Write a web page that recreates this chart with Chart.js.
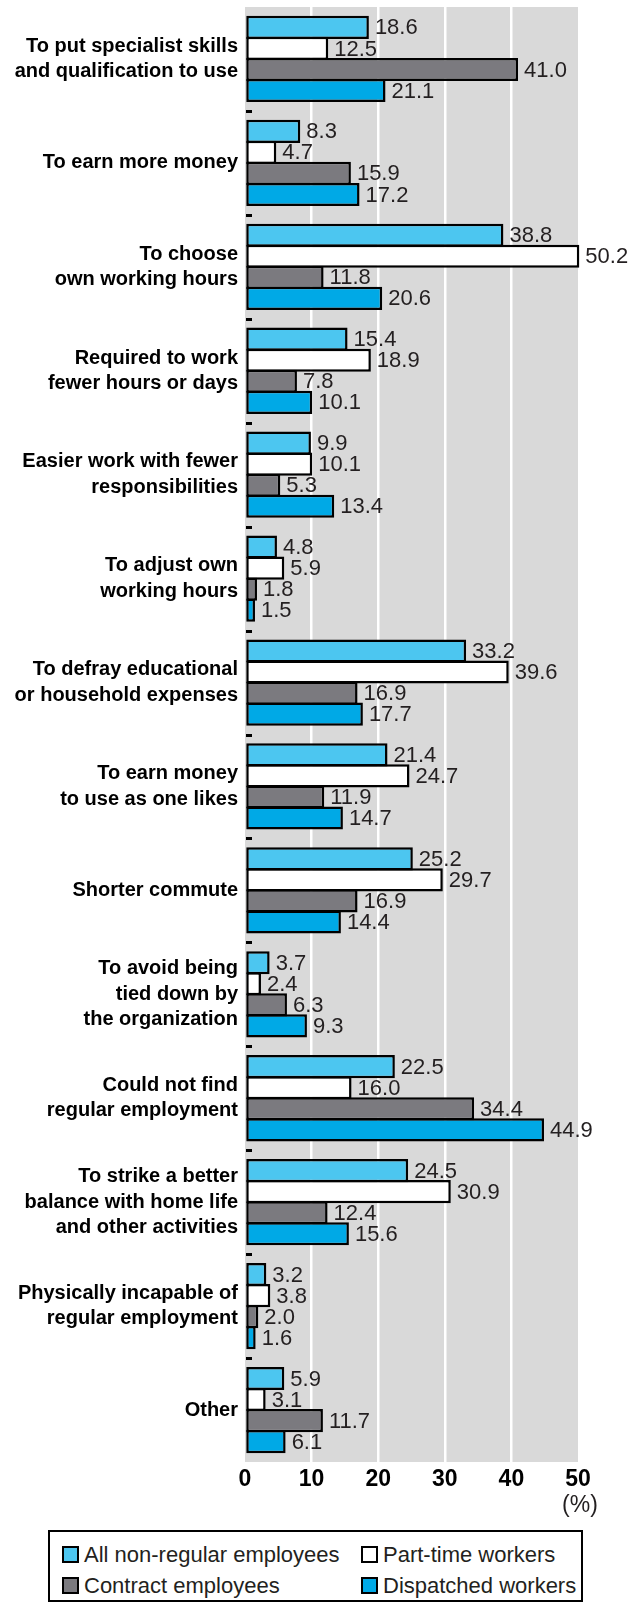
<!DOCTYPE html>
<html>
<head>
<meta charset="utf-8">
<script src="https://cdn.jsdelivr.net/npm/chart.js@4.4.0/dist/chart.umd.min.js"></script>
<style>
  body { margin: 0; background: #fff; width: 638px; height: 1603px; position: relative; overflow: hidden; }
  #wrap { position: absolute; left: 0; top: 0; width: 638px; height: 1520px; }
  #legend {
    position: absolute; left: 48px; top: 1530px; width: 535px; height: 72px;
    border: 2px solid #000; box-sizing: border-box;
    display: grid; grid-template-columns: 311px auto; grid-auto-rows: 31px;
    align-content: start; padding-top: 7px;
    font-family: 'Liberation Sans', Arial, sans-serif; font-size: 22px; color: #231f20;
  }
  #legend .item { display: flex; align-items: center; white-space: nowrap; }
  #legend .item:nth-child(odd) { padding-left: 12px; }
  #legend .box { width: 17px; height: 17px; border: 2.5px solid #000; box-sizing: border-box; margin-right: 5px; flex: none; }
</style>
</head>
<body>
<div id="wrap"><canvas id="chart" width="638" height="1520"></canvas></div>
<div id="legend"></div>
<script>
// Categories (top to bottom)
const categories = [
  ['To put specialist skills', 'and qualification to use'],
  'To earn more money',
  ['To choose', 'own working hours'],
  ['Required to work', 'fewer hours or days'],
  ['Easier work with fewer', 'responsibilities'],
  ['To adjust own', 'working hours'],
  ['To defray educational', 'or household expenses'],
  ['To earn money', 'to use as one likes'],
  'Shorter commute',
  ['To avoid being', 'tied down by', 'the organization'],
  ['Could not find', 'regular employment'],
  ['To strike a better', 'balance with home life', 'and other activities'],
  ['Physically incapable of', 'regular employment'],
  'Other'
];

// Series values (%)
const allNonRegular = [18.6, 8.3, 38.8, 15.4, 9.9, 4.8, 33.2, 21.4, 25.2, 3.7, 22.5, 24.5, 3.2, 5.9];
const partTime      = [12.5, 4.7, 50.2, 18.9, 10.1, 5.9, 39.6, 24.7, 29.7, 2.4, 16.0, 30.9, 3.8, 3.1];
const contract      = [41.0, 15.9, 11.8, 7.8, 5.3, 1.8, 16.9, 11.9, 16.9, 6.3, 34.4, 12.4, 2.0, 11.7];
const dispatched    = [21.1, 17.2, 20.6, 10.1, 13.4, 1.5, 17.7, 14.7, 14.4, 9.3, 44.9, 15.6, 1.6, 6.1];

const seriesNames = ['All non-regular employees', 'Part-time workers', 'Contract employees', 'Dispatched workers'];
const seriesColors = ['#4cc6f0', '#ffffff', '#7b7a7f', '#00a9e6'];

const xMin = 0, xMax = 50, xStep = 10;

// Gray plot background
const bgPlugin = {
  id: 'bg',
  beforeDraw(chart) {
    const { ctx, chartArea: a } = chart;
    ctx.save();
    ctx.fillStyle = '#d9d9d9';
    ctx.fillRect(a.left, a.top, a.right - a.left, a.bottom - a.top);
    ctx.restore();
  }
};

// Small dashes between category groups
const dashPlugin = {
  id: 'dashes',
  afterDatasetsDraw(chart) {
    const { ctx } = chart;
    const y = chart.scales.y;
    const left = chart.chartArea.left;
    ctx.save();
    ctx.fillStyle = '#000';
    for (let i = 0; i < categories.length - 1; i++) {
      const py = (y.getPixelForValue(i) + y.getPixelForValue(i + 1)) / 2;
      ctx.fillRect(left + 1, Math.round(py) - 1, 6, 3);
    }
    ctx.restore();
  }
};

// Value labels at bar ends
const valuePlugin = {
  id: 'values',
  afterDatasetsDraw(chart) {
    const { ctx } = chart;
    ctx.save();
    ctx.font = "22px 'Liberation Sans', Arial, sans-serif";
    ctx.fillStyle = '#231f20';
    ctx.textBaseline = 'middle';
    ctx.textAlign = 'left';
    chart.data.datasets.forEach((ds, di) => {
      chart.getDatasetMeta(di).data.forEach((bar, i) => {
        ctx.fillText(ds.data[i].toFixed(1), bar.x + 6, bar.y + 1);
      });
    });
    ctx.restore();
  }
};

// "(%)" under the last tick
const unitPlugin = {
  id: 'unit',
  afterDraw(chart) {
    const { ctx } = chart;
    const x = chart.scales.x;
    ctx.save();
    ctx.font = "23px 'Liberation Sans', Arial, sans-serif";
    ctx.fillStyle = '#231f20';
    ctx.textAlign = 'center';
    ctx.textBaseline = 'middle';
    ctx.fillText('(%)', x.getPixelForValue(xMax) + 2, chart.chartArea.bottom + 44);
    ctx.restore();
  }
};

const chart = new Chart(document.getElementById('chart'), {
  type: 'bar',
  data: {
    labels: categories,
    datasets: [allNonRegular, partTime, contract, dispatched].map((d, i) => ({
      label: seriesNames[i],
      data: d,
      backgroundColor: seriesColors[i],
      borderColor: '#000',
      borderWidth: 2.5,
      borderSkipped: false,
      categoryPercentage: 0.81,
      barPercentage: 1.1,
      clip: false
    }))
  },
  options: {
    indexAxis: 'y',
    responsive: false,
    animation: false,
    layout: { padding: { top: 7, right: 60, left: 0, bottom: 0 } },
    plugins: { legend: { display: false }, tooltip: { enabled: false } },
    scales: {
      x: {
        min: xMin, max: xMax,
        ticks: {
          stepSize: xStep, padding: 4, color: '#000',
          font: { family: "'Liberation Sans', Arial, sans-serif", size: 23, weight: 'bold' }
        },
        grid: {
          drawTicks: false,
          lineWidth: 2.5,
          color: ctx => (ctx.tick && ctx.tick.value > xMin && ctx.tick.value < xMax) ? '#ffffff' : 'rgba(0,0,0,0)'
        },
        border: { display: false },
        afterFit(scale) { scale.height = 58; scale.paddingLeft = 0; scale.paddingRight = 0; }
      },
      y: {
        ticks: {
          autoSkip: false, padding: 7, color: '#000',
          font: { family: "'Liberation Sans', Arial, sans-serif", size: 20, weight: 'bold', lineHeight: 1.27 }
        },
        grid: { display: false, drawTicks: false },
        border: { display: false },
        afterFit(scale) { scale.width = 245; scale.paddingTop = 0; scale.paddingBottom = 0; }
      }
    }
  },
  plugins: [bgPlugin, dashPlugin, valuePlugin, unitPlugin]
});

// HTML legend built from the datasets
const legend = document.getElementById('legend');
chart.data.datasets.forEach(ds => {
  const item = document.createElement('div');
  item.className = 'item';
  const box = document.createElement('span');
  box.className = 'box';
  box.style.background = ds.backgroundColor;
  item.appendChild(box);
  item.appendChild(document.createTextNode(ds.label));
  legend.appendChild(item);
});
</script>
</body>
</html>
